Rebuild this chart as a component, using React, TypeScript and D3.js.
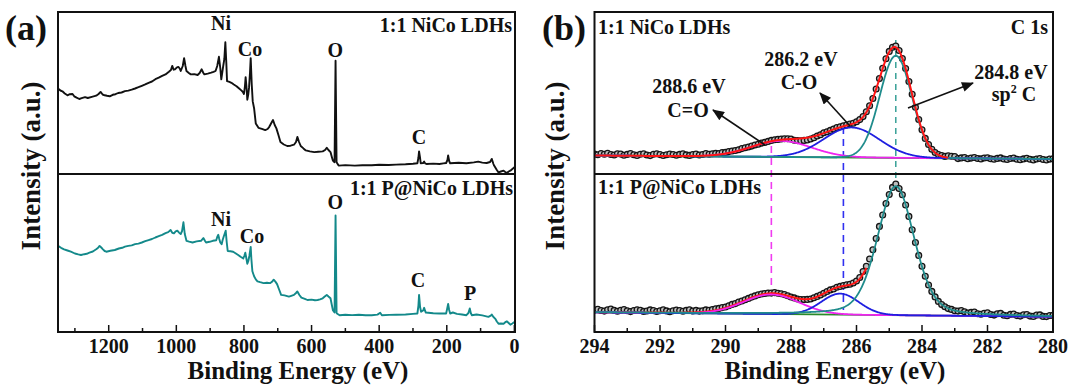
import React from 'react';
import * as d3 from 'd3';

const W = 1071;
const H = 385;
const FONT = '"Liberation Serif","Times New Roman",Times,serif';

// ---------- (a) survey spectra: [binding energy (eV), intensity (a.u.)] ----------
const surveyNiCo: [number, number][] = [
  [1350,245.4],[1343,243.5],[1337,242.7],[1330,240.5],[1322,238.7],[1315,239.8],[1307,240],[1302,237.7],[1295,236.4],[1287,235],
  [1280,235.8],[1270,236.9],[1262,236],[1250,237.2],[1237,238.3],[1230,240],[1224,242.1],[1218,239.5],[1212,238.7],[1205,238.2],
  [1197,237.7],[1188,239.2],[1180,239.8],[1172,241],[1162,241.5],[1152,242.9],[1142,243.4],[1132,244.3],[1122,245.5],[1112,246.8],
  [1102,248.2],[1092,249.6],[1082,251.2],[1072,252.5],[1062,254.8],[1052,256.3],[1042,258.1],[1032,259.6],[1022,262.3],[1016,264],
  [1012,268.1],[1008,264.3],[1004,264.7],[998,266.6],[994,267.1],[990,265.5],[987,263],[981,268],[977,275.9],[973,268],
  [970,263],[963,261],[957,259.6],[947,259.8],[937,259],[931,261],[925,264.7],[920,261],[917,259.6],[907,260.4],
  [897,261.3],[890,262.1],[884,263],[879,268],[874,277.2],[870,266],[867,254.6],[862,266.4],[858,275],[855,291.7],
  [852,270],[850,252.9],[843,252.1],[837,251.2],[830,249.5],[822,247.8],[815,245.7],[807,243.4],[803,242],[800,240],
  [797,248],[795,256.9],[792,245],[790,234.3],[787,240],[785,246.1],[782,262],[780,275.9],[777,250],[774,232.6],
  [770,225.8],[765,210.6],[757,206.2],[747,205.2],[737,203.9],[730,205],[725,207.2],[719,211],[714,214],[709,209],
  [704,205.6],[698,199],[692,192],[682,189.5],[672,188],[662,188.3],[652,189.3],[646,192],[642,197.1],[637,192],
  [632,188],[624,185.6],[617,183.6],[605,182.6],[592,181.9],[580,182.3],[567,182.6],[560,184],[555,186.3],[550,184],
  [544,181.9],[540,177],[537,173.4],[532,171.8],[529,273.2],[526,171.8],[520,168.4],[500,168.9],[472,168.4],[450,168.8],
  [422,168.7],[400,169.3],[372,169],[350,169.4],[322,169.7],[300,170.2],[287,170.7],[284,176],[282,182.6],[279,176],
  [277,170.7],[270,170.9],[267,172.4],[264,170.6],[260,170],[240,170.4],[222,170],[210,170.6],[202,171],[198,174],
  [196,178.5],[193,173],[190,170.7],[165,171.2],[142,170.7],[120,171.6],[107,172.4],[95,171.4],[82,171],[72,172],
  [67,175.1],[62,170],[60,168.4],[52,164],[47,161.6],[40,162.5],[32,163.3],[27,162],[22,161],[17,162.5],
  [12,163.3],[6,165],[0,166.7]
];

const surveyPNiCo: [number, number][] = [
  [1350,88.1],[1341,86.2],[1332,84.7],[1322,83.5],[1312,82.3],[1300,80.5],[1290,79.6],[1282,79],[1272,79.8],[1265,80.2],
  [1257,81.3],[1247,82.5],[1237,84.7],[1232,86],[1227,88.1],[1222,86.5],[1217,84.7],[1212,83],[1207,82.3],[1195,83.2],
  [1182,84],[1170,85.5],[1160,86.2],[1152,87.4],[1142,88.1],[1132,88.6],[1122,89.9],[1112,90.4],[1102,91.5],[1092,92.8],
  [1082,93.9],[1072,95],[1062,96.5],[1052,97.8],[1042,99.1],[1032,100.9],[1024,101.9],[1017,104],[1012,101.2],[1007,100.6],
  [1002,102.6],[997,103.3],[992,101.4],[987,99.9],[983,103],[979,111.7],[975,100],[970,93.2],[962,92.4],[952,91.5],
  [940,92.6],[927,93.2],[920,95.9],[915,93],[912,91.5],[902,92.2],[892,93.2],[882,93.8],[879,97],[876,99.2],
  [873,95],[870,91.5],[866,89.8],[863,94],[860,97.2],[854,103.3],[851,92],[848,83],[840,82.8],[832,82.3],
  [825,80.8],[817,79],[810,77.2],[802,75.6],[799,78],[796,81.3],[793,76],[790,70.2],[787,73],[784,78],
  [780,87.1],[778,75],[775,62.7],[770,57.7],[765,54.6],[760,52.6],[752,51.8],[742,50.9],[732,51.2],[722,50.9],
  [717,52.2],[712,54.3],[707,52.4],[702,49.9],[696,44.5],[690,39.1],[680,38.6],[667,37.4],[660,38.2],[652,39.1],
  [646,41],[642,42.5],[636,39],[630,36.4],[620,35.2],[612,34],[600,34.4],[590,33.8],[582,34],[575,34.6],
  [567,35.7],[561,37.5],[555,39.1],[550,37.5],[544,35.7],[540,29],[537,23.9],[532,21.5],[529,118.5],[526,21],
  [525,20.5],[517,18.8],[500,19.2],[480,18.9],[460,19.3],[440,18.8],[422,18.8],[405,19.4],[397,21.2],[392,18.8],
  [370,19.1],[350,19.3],[322,19.5],[300,20.1],[287,20.5],[284,28],[282,39.1],[279,27],[276,22.2],[270,23.5],
  [267,26.2],[264,23],[262,21.5],[240,20.8],[222,20.5],[210,20.6],[202,20.5],[199,25],[196,30],[193,24],
  [190,20.5],[182,21.5],[170,20.1],[155,19.5],[142,18.8],[136,21],[132,25.6],[129,21],[126,18.8],[112,19.5],
  [95,18.6],[77,17.1],[70,18.3],[67,19.5],[62,17],[57,15.4],[52,12.5],[47,10.3],[40,10.5],[32,10.3],
  [27,11.8],[22,12.7],[17,11],[12,9.3],[6,10.5],[0,12]
];

const surveyTickLabels = [1200, 1000, 800, 600, 400, 200, 0];

// element labels: [text, energy, intensity]
const surveyLabelsTop: [string, number, number][] = [
  ['Ni', 868, 304], ['Co', 782, 278], ['O', 530, 277], ['C', 282, 190]
];
const surveyLabelsBottom: [string, number, number][] = [
  ['O', 530, 125], ['Ni', 868, 108], ['Co', 776, 91], ['C', 285, 47], ['P', 131, 34]
];

// ---------- (b) C 1s spectra: 294.0 -> 280.0 eV, step 0.1 eV ----------
const c1sStart = 294.0;
const c1sStep = 0.1;

const c1sNiCo = [
  22.0,21.2,22.5,21.8,22.8,21.5,21.0,22.3,21.9,20.8,
  21.6,22.4,21.3,20.6,21.8,22.2,21.0,20.4,21.7,22.3,
  21.4,20.5,21.2,22.0,21.5,20.7,21.6,22.2,21.1,20.6,
  21.4,21.9,21.0,21.5,22.4,21.8,22.3,22.6,22.4,23.4,
  23.6,24.4,25.0,25.5,26.3,27.4,28.3,29.0,29.9,31.0,
  31.8,32.9,33.6,34.6,35.6,36.2,36.6,37.0,37.3,37.2,
  37.0,35.8,35.4,35.3,35.6,36.0,37.0,38.2,40.0,41.3,
  43.2,44.3,45.6,46.9,48.4,49.3,50.2,51.0,51.9,52.8,
  54.3,56.4,59.4,64.2,70.3,77.5,87.0,97.4,107.8,117.3,
  124.6,128.8,130.0,125.5,117.5,107.5,94.5,81.8,68.7,56.5,
  46.3,37.6,31.5,26.8,23.5,21.5,20.5,19.6,20.2,19.8,
  19.4,17.4,18.1,18.4,17.3,17.9,18.5,17.5,17.1,18.0,
  18.3,17.2,16.7,17.6,18.1,17.0,16.5,17.5,17.9,16.8,
  16.3,17.1,17.7,16.7,16.1,17.0,17.5,16.5,16.0,16.9,
  17.3
];

const c1sPNiCo = [
  25.9,26.8,25.5,24.9,26.2,26.9,25.6,24.7,25.8,26.5,
  25.2,24.4,25.5,26.3,25.7,24.6,25.0,26.1,25.4,24.5,
  25.3,26.2,25.1,24.3,25.2,26.0,25.5,24.8,25.6,26.3,
  25.0,25.6,24.9,25.3,26.1,25.8,26.5,27.3,27.6,28.4,
  29.0,30.2,31.6,32.4,33.9,35.0,36.3,37.6,38.9,40.1,
  41.2,42.0,42.5,43.0,42.9,43.4,42.8,42.3,41.4,40.3,
  39.0,38.1,37.0,36.5,36.4,36.6,37.0,38.3,39.6,41.0,
  42.8,44.5,46.1,47.0,48.7,49.6,50.5,51.2,51.8,53.0,
  55.0,58.5,64.5,69.8,77.0,86.2,97.4,109.6,121.0,132.4,
  141.5,148.6,152.0,147.4,141.3,131.0,119.6,106.2,93.5,80.6,
  69.8,59.8,51.0,44.6,39.1,34.6,31.4,29.2,27.4,26.6,
  25.2,24.9,25.4,24.2,23.0,23.6,23.9,22.3,21.8,22.8,
  23.2,21.5,20.9,22.2,22.6,20.8,20.3,21.6,21.9,20.4,
  19.9,21.2,21.4,19.9,19.6,20.9,21.1,19.6,19.4,20.5,
  20.8
];

// fitted peak parameters (center eV, height, FWHM, Lorentzian fraction)
type Peak = { center: number; height: number; fwhm: number; eta: number; color: string };
const fitNiCo: Peak[] = [
  { center: 288.3, height: 16, fwhm: 2.17, eta: 0, color: '#f024f0' },
  { center: 286.15, height: 30, fwhm: 2.0, eta: 0, color: '#1f1fe0' },
  { center: 284.8, height: 102, fwhm: 1.154, eta: 0, color: '#1f8c8c' }
];
const fitPNiCo: Peak[] = [
  { center: 288.6, height: 19.5, fwhm: 2.0, eta: 0, color: '#f024f0' },
  { center: 286.5, height: 21, fwhm: 1.35, eta: 0, color: '#1f1fe0' },
  { center: 284.8, height: 129, fwhm: 1.33, eta: 0.3, color: '#1f8c8c' }
];
// linear background: intensity at 294 eV and 280 eV
const bgNiCo: [number, number] = [20.5, 17];
const bgPNiCo: [number, number] = [23.7, 19.3];
// envelope drawn range (eV)
const envRangeNiCo: [number, number] = [294, 283.2];
const envRangePNiCo: [number, number] = [294, 285.7];

const c1sTickLabels = [294, 292, 290, 288, 286, 284, 282, 280];

function peakVal(E: number, p: Peak) {
  const d = E - p.center;
  const f2 = p.fwhm * p.fwhm;
  const g = Math.exp((-4 * Math.LN2 * d * d) / f2);
  const l = 1 / (1 + (4 * d * d) / f2);
  return p.height * ((1 - p.eta) * g + p.eta * l);
}
function bgVal(E: number, bg: [number, number]) {
  return bg[1] + ((E - 280) / 14) * (bg[0] - bg[1]);
}

const txt = { fontFamily: FONT, fontWeight: 700 as const, fill: '#111' };

export default function App() {
  // scales
  const xL = d3.scaleLinear().domain([1350, 0]).range([58, 514.4]);
  const yL = d3.scaleLinear().domain([0, 322]).range([334, 12]);
  const xR = d3.scaleLinear().domain([294, 280]).range([594.5, 1053]);
  const yRt = d3.scaleLinear().domain([0, 164]).range([176, 12]);
  const yRb = d3.scaleLinear().domain([0, 160]).range([336, 176]);

  const frameL = { x0: 58, x1: 515, y0: 12, y1: 332, ym: 174 };
  const frameR = { x0: 594.5, x1: 1053, y0: 12, y1: 332, ym: 174 };

  const lineL = d3.line<[number, number]>().x(d => xL(d[0])).y(d => yL(d[1]));

  const fine = d3.range(294, 279.999, -0.02);

  const compPath = (p: Peak, bg: [number, number], y: d3.ScaleLinear<number, number>) =>
    d3.line<number>().x(e => xR(e)).y(e => y(bgVal(e, bg) + peakVal(e, p)))(fine) || '';
  const bgPath = (bg: [number, number], y: d3.ScaleLinear<number, number>) =>
    d3.line<number>().x(e => xR(e)).y(e => y(bgVal(e, bg)))([294, 280]) || '';
  const envPath = (peaks: Peak[], bg: [number, number], range: [number, number], y: d3.ScaleLinear<number, number>) =>
    d3.line<number>().x(e => xR(e)).y(e => y(bgVal(e, bg) + d3.sum(peaks, p => peakVal(e, p))))(
      fine.filter(e => e <= range[0] + 1e-9 && e >= range[1] - 1e-9)
    ) || '';

  const pts = (vals: number[]) => vals.map((v, i) => [c1sStart - i * c1sStep, v] as [number, number]);

  const leftTicks = d3.range(0, 1351, 100);
  const rightTicks = d3.range(280, 294.01, 1);

  const RED = '#ff1414';
  const GREEN = '#2a8a2a';

  const circles = (vals: number[], y: d3.ScaleLinear<number, number>, key: string) =>
    pts(vals).map(([e, v], i) => (
      <circle key={key + i} cx={xR(e)} cy={y(v)} r={2.9} fill="#bdbdbd" stroke="#151515" strokeWidth={1.3} />
    ));

  const TICK_Y = 353;
  const TITLE_Y = 379;

  return (
    <svg width={W} height={H} style={{ position: 'absolute', left: 0, top: 0, background: '#fff' }}>
      <defs>
        <marker id="ah" viewBox="0 0 12 10" refX="11" refY="5" markerWidth="13" markerHeight="10"
          markerUnits="userSpaceOnUse" orient="auto">
          <path d="M0,0 L12,5 L0,10 z" fill="#111" />
        </marker>
        <clipPath id="clipL"><rect x={frameL.x0} y={frameL.y0} width={frameL.x1 - frameL.x0} height={frameL.y1 - frameL.y0} /></clipPath>
        <clipPath id="clipRt"><rect x={frameR.x0} y={frameR.y0} width={frameR.x1 - frameR.x0} height={frameR.ym - frameR.y0} /></clipPath>
        <clipPath id="clipRb"><rect x={frameR.x0} y={frameR.ym} width={frameR.x1 - frameR.x0} height={frameR.y1 - frameR.ym} /></clipPath>
      </defs>
      <rect x={0} y={0} width={W} height={H} fill="#fff" />

      {/* ================= (a) ================= */}
      <text x={5} y={40} style={{ ...txt, fontSize: 36 }}>(a)</text>
      <g clipPath="url(#clipL)">
        <path d={lineL(surveyNiCo) || ''} fill="none" stroke="#111" strokeWidth={1.9} strokeLinejoin="round" />
        <path d={lineL(surveyPNiCo) || ''} fill="none" stroke="#13898a" strokeWidth={1.9} strokeLinejoin="round" />
      </g>
      <rect x={frameL.x0} y={frameL.y0} width={frameL.x1 - frameL.x0} height={frameL.y1 - frameL.y0} fill="none" stroke="#111" strokeWidth={2} />
      <line x1={frameL.x0} x2={frameL.x1} y1={frameL.ym} y2={frameL.ym} stroke="#111" strokeWidth={2} />
      {leftTicks.map(t => (
        <line key={'lt' + t} x1={xL(t)} x2={xL(t)} y1={frameL.y1} y2={frameL.y1 - (t % 200 === 0 ? 7 : 4)} stroke="#111" strokeWidth={1.5} />
      ))}
      {surveyTickLabels.map(t => (
        <text key={'ll' + t} x={xL(t)} y={TICK_Y} textAnchor="middle" style={{ ...txt, fontSize: 20 }}>{t}</text>
      ))}
      <text x={298} y={TITLE_Y} textAnchor="middle" style={{ ...txt, fontSize: 25 }}>Binding Energy (eV)</text>
      <text transform="translate(40,166) rotate(-90)" textAnchor="middle" style={{ ...txt, fontSize: 27 }}>Intensity (a.u.)</text>
      <text x={512} y={32} textAnchor="end" style={{ ...txt, fontSize: 20 }}>1:1 NiCo LDHs</text>
      <text x={513} y={195} textAnchor="end" style={{ ...txt, fontSize: 20 }}>1:1 P@NiCo LDHs</text>
      {surveyLabelsTop.concat(surveyLabelsBottom).map(([s, e, v], i) => (
        <text key={'sl' + i} x={xL(e)} y={yL(v)} textAnchor="middle" style={{ ...txt, fontSize: 20 }}>{s}</text>
      ))}

      {/* ================= (b) ================= */}
      <text x={542} y={40} style={{ ...txt, fontSize: 36 }}>(b)</text>

      {/* dashed reference lines */}
      <line x1={xR(288.6)} x2={xR(288.6)} y1={yRt(30)} y2={yRb(43)} stroke="#f03cf0" strokeWidth={1.6} strokeDasharray="7,5" />
      <line x1={xR(286.4)} x2={xR(286.4)} y1={yRt(49)} y2={yRb(26)} stroke="#3030f0" strokeWidth={1.6} strokeDasharray="7,5" />
      <line x1={xR(284.8)} x2={xR(284.8)} y1={yRt(136)} y2={yRb(155)} stroke="#2a9a90" strokeWidth={1.4} strokeDasharray="6,5" />

      {/* top: 1:1 NiCo LDHs */}
      <g clipPath="url(#clipRt)">
        {circles(c1sNiCo, yRt, 't')}
        <path d={bgPath(bgNiCo, yRt)} fill="none" stroke={GREEN} strokeWidth={1.8} />
        {fitNiCo.map((p, i) => (
          <path key={'ft' + i} d={compPath(p, bgNiCo, yRt)} fill="none" stroke={p.color} strokeWidth={1.8} />
        ))}
        <path d={envPath(fitNiCo, bgNiCo, envRangeNiCo, yRt)} fill="none" stroke={RED} strokeWidth={2} />
      </g>

      {/* bottom: 1:1 P@NiCo LDHs */}
      <g clipPath="url(#clipRb)">
        {circles(c1sPNiCo, yRb, 'b')}
        <path d={bgPath(bgPNiCo, yRb)} fill="none" stroke={GREEN} strokeWidth={1.8} />
        <path d={envPath(fitPNiCo, bgPNiCo, envRangePNiCo, yRb)} fill="none" stroke={RED} strokeWidth={2} />
        {fitPNiCo.map((p, i) => (
          <path key={'fb' + i} d={compPath(p, bgPNiCo, yRb)} fill="none" stroke={p.color} strokeWidth={1.8} />
        ))}
      </g>

      <rect x={frameR.x0} y={frameR.y0} width={frameR.x1 - frameR.x0} height={frameR.y1 - frameR.y0} fill="none" stroke="#111" strokeWidth={2} />
      <line x1={frameR.x0} x2={frameR.x1} y1={frameR.ym} y2={frameR.ym} stroke="#111" strokeWidth={2} />
      {rightTicks.map(t => (
        <line key={'rt' + t} x1={xR(t)} x2={xR(t)} y1={frameR.y1} y2={frameR.y1 - (t % 2 === 0 ? 7 : 4)} stroke="#111" strokeWidth={1.5} />
      ))}
      {c1sTickLabels.map(t => (
        <text key={'rl' + t} x={xR(t)} y={TICK_Y} textAnchor="middle" style={{ ...txt, fontSize: 20 }}>{t}</text>
      ))}
      <text x={835} y={TITLE_Y} textAnchor="middle" style={{ ...txt, fontSize: 25 }}>Binding Energy (eV)</text>
      <text transform="translate(564,166) rotate(-90)" textAnchor="middle" style={{ ...txt, fontSize: 27 }}>Intensity (a.u.)</text>
      <text x={598} y={34} style={{ ...txt, fontSize: 20 }}>1:1 NiCo LDHs</text>
      <text x={1048} y={34} textAnchor="end" style={{ ...txt, fontSize: 20 }}>C 1s</text>
      <text x={598} y={194} style={{ ...txt, fontSize: 20 }}>1:1 P@NiCo LDHs</text>

      {/* annotations */}
      <text x={689} y={93} textAnchor="middle" style={{ ...txt, fontSize: 20 }}>288.6 eV</text>
      <text x={688} y={117} textAnchor="middle" style={{ ...txt, fontSize: 20 }}>C=O</text>
      <text x={801} y={66} textAnchor="middle" style={{ ...txt, fontSize: 20 }}>286.2 eV</text>
      <text x={799} y={89} textAnchor="middle" style={{ ...txt, fontSize: 20 }}>C-O</text>
      <text x={1011} y={79} textAnchor="middle" style={{ ...txt, fontSize: 20 }}>284.8 eV</text>
      <text x={1014} y={101} textAnchor="middle" style={{ ...txt, fontSize: 20 }}>
        <tspan>sp</tspan>
        <tspan dy={-8} style={{ fontSize: 12 }}>2</tspan>
        <tspan dy={8}> C</tspan>
      </text>
      <line x1={765} y1={145} x2={713} y2={110} stroke="#111" strokeWidth={1.6} markerEnd="url(#ah)" />
      <line x1={850} y1={126} x2={820} y2={93} stroke="#111" strokeWidth={1.6} markerEnd="url(#ah)" />
      <line x1={908} y1={108} x2={973} y2={83} stroke="#111" strokeWidth={1.6} markerEnd="url(#ah)" />
    </svg>
  );
}
